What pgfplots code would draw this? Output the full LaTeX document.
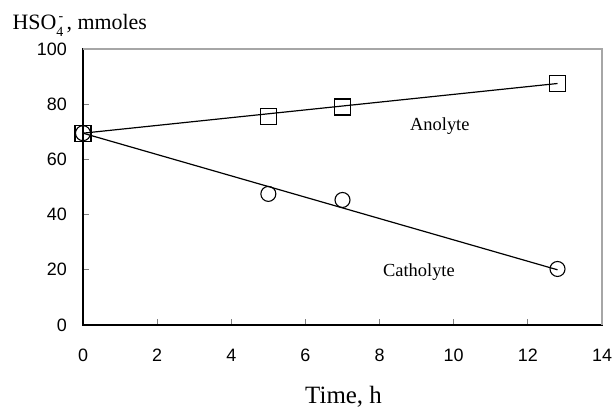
\documentclass[border=0pt]{standalone}
\usepackage{fontspec}
\setmainfont{Liberation Serif}
\newfontfamily\arial{Liberation Sans}
\usepackage{pgfplots}
\pgfplotsset{compat=1.18}
\begin{document}
\begin{tikzpicture}[x=1bp,y=1bp]
\begin{axis}[
  at={(0,0)}, anchor=south west,
  scale only axis, width=519bp, height=276bp,
  xmin=0, xmax=14, ymin=0, ymax=100,
  xtick={0,2,...,14}, ytick={0,20,...,100},
  tick align=inside, tick pos=left,
  major tick length=6bp,
  axis line style={black, line width=1.1pt},
  major tick style={line width=1pt},
  /pgf/number format/assume math mode=true,
  ticklabel style={font=\arial\fontsize{18}{18}\selectfont, inner sep=0pt},
  xticklabel style={yshift=-24bp},
  yticklabel style={xshift=-16bp},
  clip=false,
  xlabel={Time, h},
  xlabel style={font=\fontsize{25}{25}\selectfont, anchor=base, at={(axis description cs:0.502,-0.284)}},
  ylabel={HSO\rlap{\raisebox{-0.3em}{\fontsize{14}{14}\selectfont 4}}\raisebox{0.45em}{\fontsize{14}{14}\selectfont\,-}\hspace{0.15em}, mmoles},
  ylabel style={font=\fontsize{22}{22}\selectfont, rotate=-90, anchor=base west, at={(axis description cs:-0.1426,1.069)}},
]
\draw[gray!70, line width=1.1pt] (rel axis cs:0,1) -- (rel axis cs:1,1) -- (rel axis cs:1,0);
% fit lines
\addplot[black, line width=1.2pt, no marks] coordinates {(0,69.5) (12.8,87.5)};
\addplot[black, line width=1.2pt, no marks] coordinates {(0,69.5) (12.8,20)};
% anolyte
\addplot[only marks, mark=square, mark size=8bp, mark options={fill=none, draw=black, line width=1.1pt}]
  coordinates {(0,69.5) (5,75.4) (7,79.0) (12.8,87.4)};
% catholyte
\addplot[only marks, mark=o, mark size=7.5bp, mark options={fill=none, draw=black, line width=1.1pt}]
  coordinates {(0,69.5) (5,47.5) (7,45.3) (12.8,20.3)};
\node[anchor=base west, font=\fontsize{18.5}{18.5}\selectfont, inner sep=0pt] at (axis cs:8.82,70.3) {Anolyte};
\node[anchor=base west, font=\fontsize{18.5}{18.5}\selectfont, inner sep=0pt] at (axis cs:8.09,17.4) {Catholyte};
\end{axis}
\pgfresetboundingbox
\path (-83bp,-83bp) rectangle (531bp,325bp);
\end{tikzpicture}
\end{document}
